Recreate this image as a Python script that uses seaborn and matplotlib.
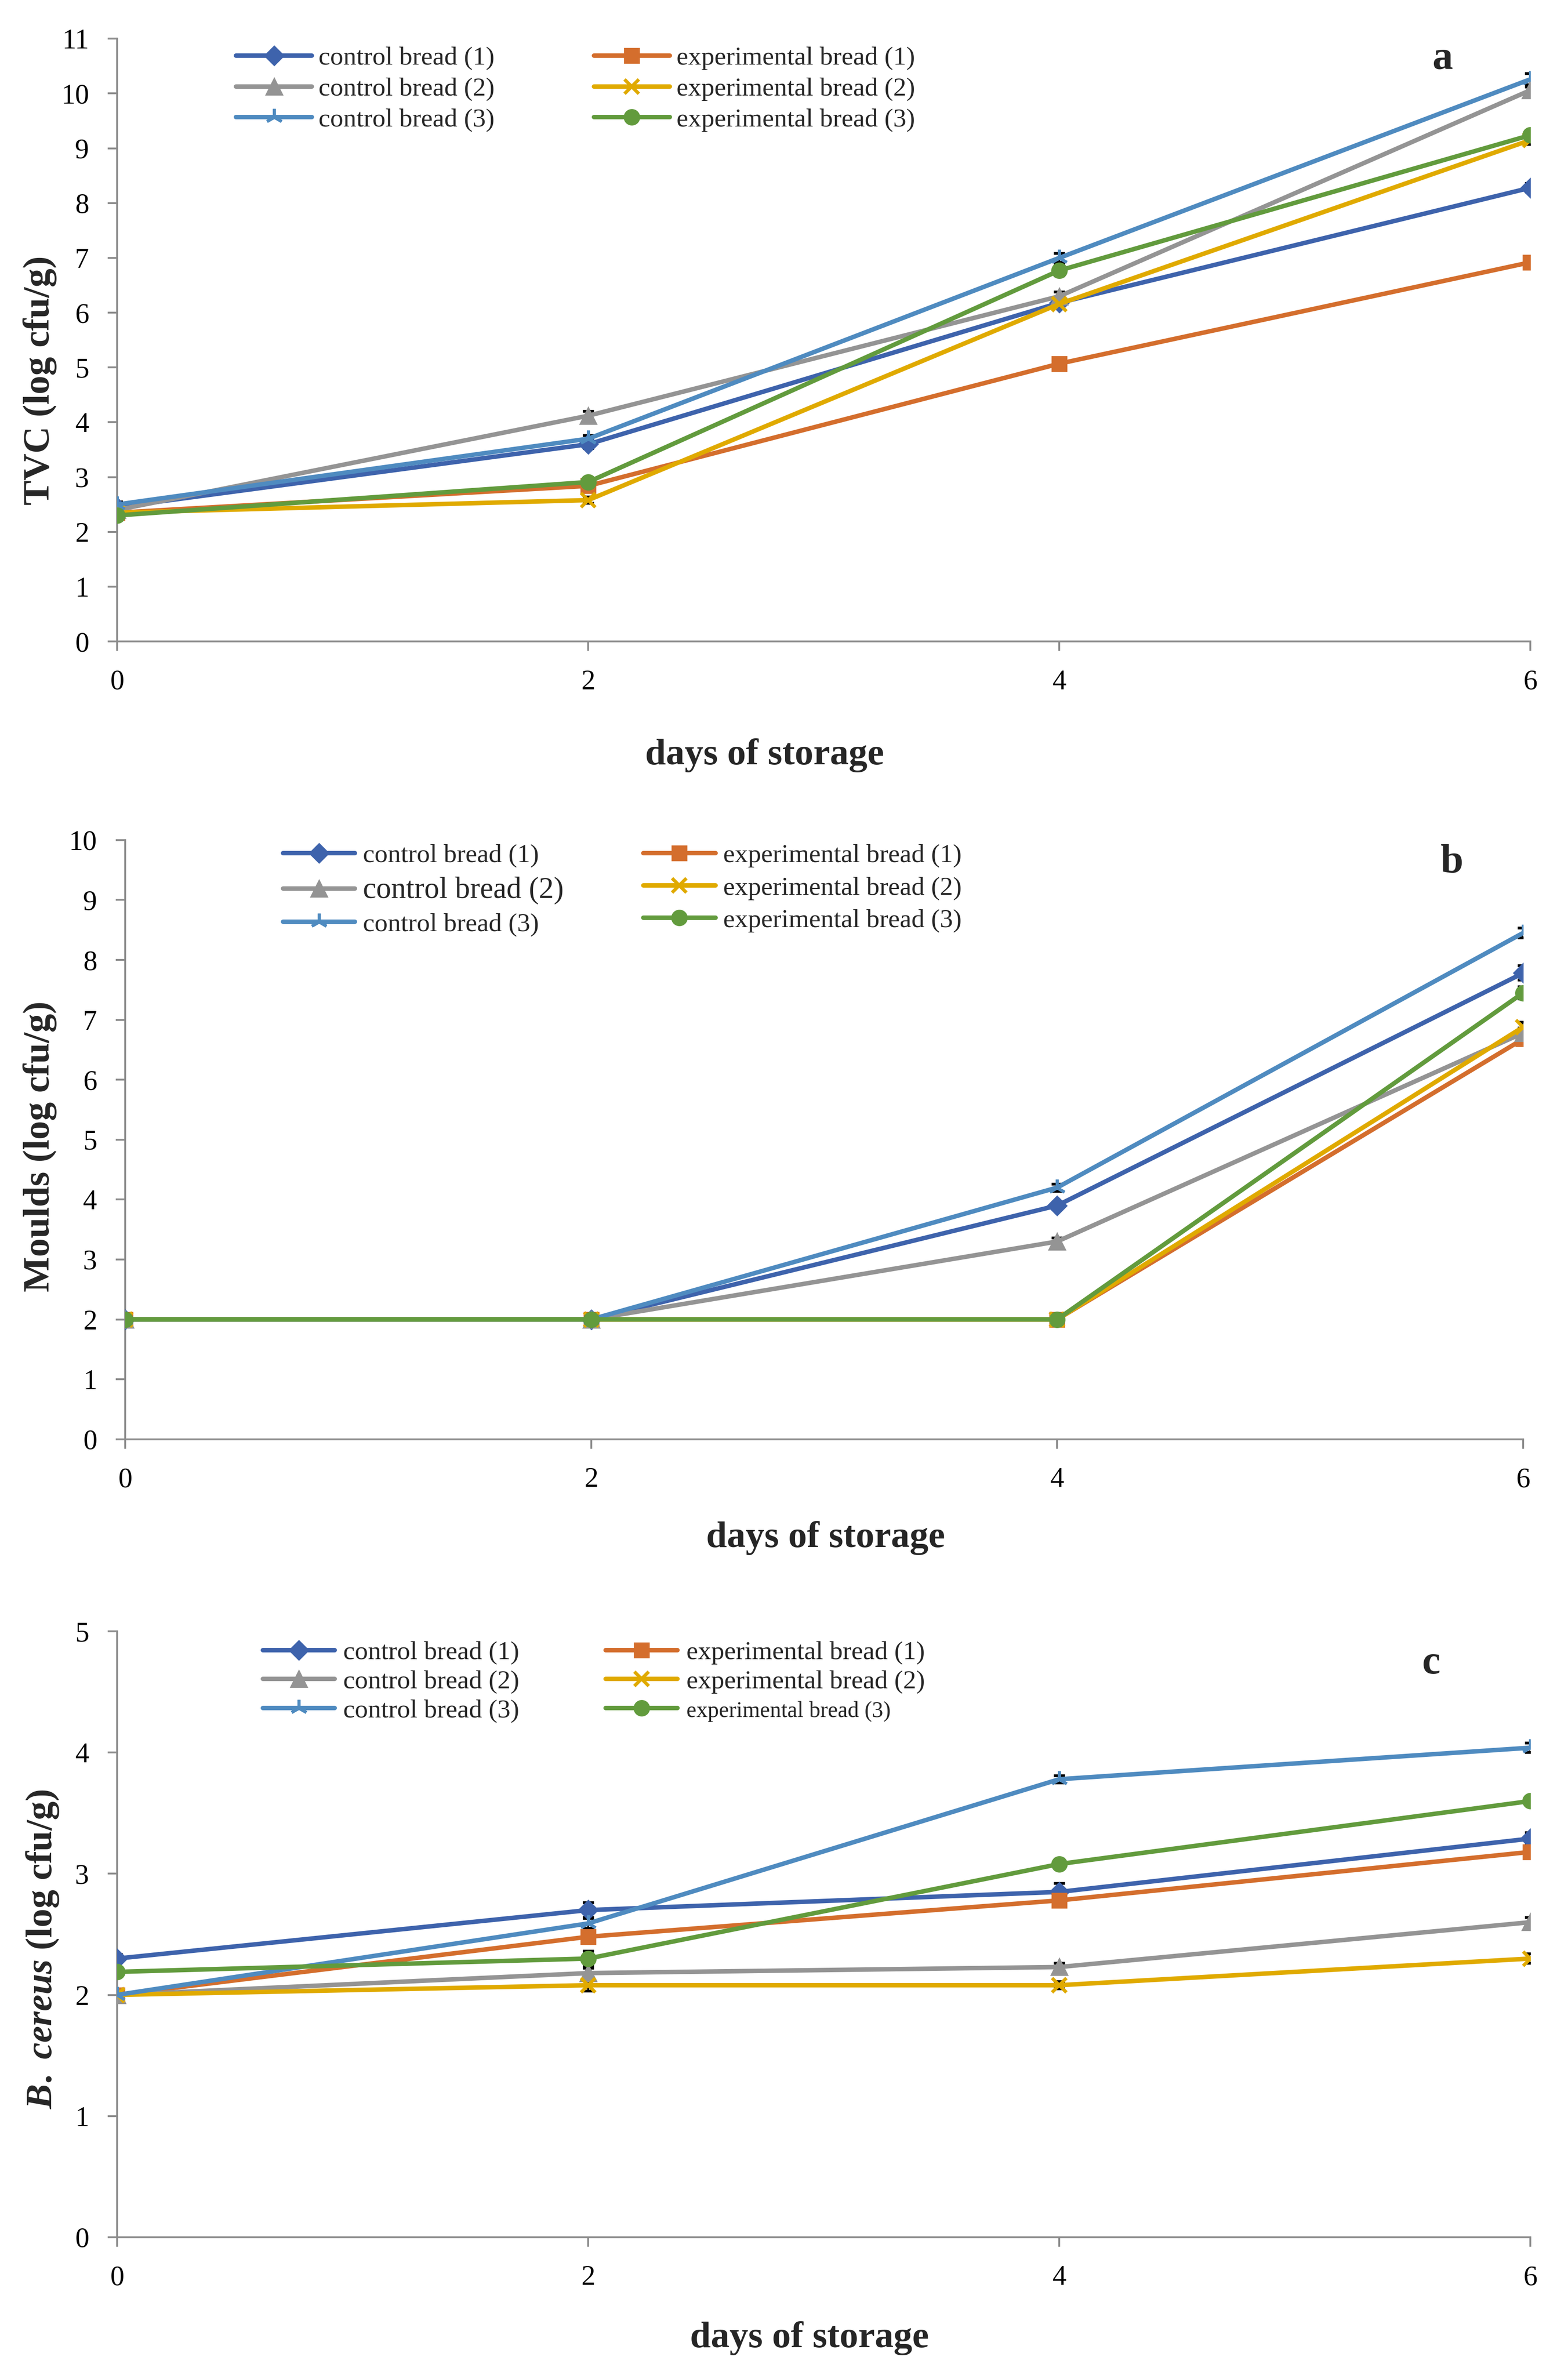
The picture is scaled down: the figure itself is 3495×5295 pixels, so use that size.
import matplotlib
matplotlib.use("Agg")
import matplotlib.pyplot as plt
import seaborn as sns

sns.set_theme(style="white")
plt.rcParams["font.family"] = ["Liberation Serif", "DejaVu Serif"]
plt.rcParams["mathtext.fontset"] = "custom"
plt.rcParams["mathtext.it"] = "Liberation Serif:italic:bold"
plt.rcParams["mathtext.rm"] = "Liberation Serif:bold"

days = [0, 2, 4, 6]
series_names = [
    "control bread (1)",
    "experimental bread (1)",
    "control bread (2)",
    "experimental bread (2)",
    "control bread (3)",
    "experimental bread (3)",
]
series_colors = ["#3E63AC", "#D46E2D", "#949494", "#E0AA00", "#4F8BC0", "#629B3D"]
series_markers = ["D", "s", "^", "x", (3, 2, 0), "o"]
marker_sizes = [7, 7.5, 8.5, 7.5, 9, 8]
marker_edges = [0.8, 0.8, 0.8, 1.8, 1.6, 0.8]

tvc_means = [
    [2.45, 3.60, 6.18, 8.28],
    [2.35, 2.84, 5.07, 6.92],
    [2.40, 4.12, 6.30, 10.06],
    [2.35, 2.58, 6.16, 9.15],
    [2.50, 3.70, 7.00, 10.26],
    [2.30, 2.91, 6.77, 9.24],
]
tvc_err = [
    [0.05, 0.08, 0.10, 0.08],
    [0.04, 0.06, 0.06, 0.05],
    [0.05, 0.08, 0.08, 0.06],
    [0.04, 0.06, 0.08, 0.08],
    [0.05, 0.06, 0.08, 0.10],
    [0.04, 0.06, 0.10, 0.08],
]

moulds_means = [
    [2.0, 2.0, 3.90, 7.78],
    [2.0, 2.0, 2.00, 6.68],
    [2.0, 2.0, 3.30, 6.78],
    [2.0, 2.0, 2.00, 6.88],
    [2.0, 2.0, 4.20, 8.45],
    [2.0, 2.0, 2.00, 7.45],
]
moulds_err = [
    [0.0, 0.0, 0.06, 0.12],
    [0.0, 0.0, 0.00, 0.08],
    [0.0, 0.0, 0.06, 0.08],
    [0.0, 0.0, 0.00, 0.08],
    [0.0, 0.0, 0.06, 0.08],
    [0.0, 0.0, 0.00, 0.10],
]

cereus_means = [
    [2.30, 2.70, 2.85, 3.29],
    [2.00, 2.48, 2.78, 3.18],
    [2.00, 2.18, 2.23, 2.60],
    [2.00, 2.08, 2.08, 2.30],
    [2.00, 2.59, 3.78, 4.04],
    [2.19, 2.30, 3.08, 3.60],
]
cereus_err = [
    [0.03, 0.06, 0.07, 0.05],
    [0.02, 0.05, 0.05, 0.05],
    [0.02, 0.04, 0.03, 0.04],
    [0.02, 0.05, 0.03, 0.04],
    [0.02, 0.04, 0.03, 0.04],
    [0.03, 0.06, 0.04, 0.04],
]

spine_grey = "#8C8C8C"

panels = [
    {
        "rect": [0.0747, 0.7299, 0.9013, 0.2538],
        "means": tvc_means, "err": tvc_err, "ymax": 11,
        "ylabel": "TVC (log cfu/g)", "ylabel_pos": (-0.0546, 0.433),
        "xlabel_pos": (0.458, -0.189),
        "letter": "a", "letter_pos": (0.938, 0.9665),
        "legend_pos": (0.0841, 0.9873), "legend_kw": dict(handlelength=2.9, handletextpad=0.25,
                                                       columnspacing=3.8, labelspacing=0.27),
        "big_label": None, "small_label": None,
    },
    {
        "rect": [0.0798, 0.3940, 0.8916, 0.2523],
        "means": moulds_means, "err": moulds_err, "ymax": 10,
        "ylabel": "Moulds (log cfu/g)", "ylabel_pos": (-0.061, 0.489),
        "xlabel_pos": (0.501, -0.165),
        "letter": "b", "letter_pos": (0.949, 0.9626),
        "legend_pos": (0.113, 0.9937), "legend_kw": dict(handlelength=2.75, handletextpad=0.3,
                                                      columnspacing=3.05, labelspacing=0.33),
        "big_label": 2, "small_label": None,
    },
    {
        "rect": [0.0747, 0.0580, 0.9013, 0.2551],
        "means": cereus_means, "err": cereus_err, "ymax": 5,
        "ylabel": r"$\mathit{B.\ cereus}$ (log cfu/g)", "ylabel_pos": (-0.053, 0.475),
        "xlabel_pos": (0.490, -0.167),
        "letter": "c", "letter_pos": (0.930, 0.9467),
        "legend_pos": (0.103, 0.9844), "legend_kw": dict(handlelength=2.75, handletextpad=0.33,
                                                      columnspacing=3.3, labelspacing=0.2),
        "big_label": None, "small_label": 5,
    },
]

fig = plt.figure(figsize=(11.65, 17.65), dpi=300)

for p in panels:
    ax = fig.add_axes(p["rect"])
    for i, name in enumerate(series_names):
        ax.errorbar(days, p["means"][i], yerr=p["err"][i], fmt="none", ecolor="black",
                    elinewidth=1.0, capsize=3, capthick=1.5, zorder=2)
    for i, name in enumerate(series_names):
        color = series_colors[i]
        sns.lineplot(x=days, y=p["means"][i], ax=ax, color=color, label=name,
                     marker=series_markers[i], markersize=marker_sizes[i],
                     markeredgecolor=color, markerfacecolor=color,
                     markeredgewidth=marker_edges[i], linewidth=2.4, zorder=3 + i)

    ax.set_xlim(0, 6)
    ax.set_ylim(0, p["ymax"])
    ax.set_xticks(days)
    ax.set_yticks(range(0, p["ymax"] + 1))
    for side in ["top", "right"]:
        ax.spines[side].set_visible(False)
    for side in ["left", "bottom"]:
        ax.spines[side].set_color(spine_grey)
        ax.spines[side].set_linewidth(1.0)
    ax.tick_params(axis="both", direction="out", length=5, width=1.0, color=spine_grey,
                   labelsize=15, pad=10, labelcolor="black")
    ax.tick_params(axis="both", which="both", bottom=True, left=True)

    ax.set_xlabel("days of storage", fontsize=20, fontweight="bold")
    ax.xaxis.set_label_coords(*p["xlabel_pos"])
    ax.xaxis.label.set_va("center")
    ax.set_ylabel(p["ylabel"], fontsize=20, fontweight="bold")
    ax.yaxis.set_label_coords(*p["ylabel_pos"])
    ax.yaxis.label.set_va("center")

    ax.text(*p["letter_pos"], p["letter"], transform=ax.transAxes, fontsize=22,
            fontweight="bold", ha="center", va="center")

    handles, labels = ax.get_legend_handles_labels()
    order = [0, 2, 4, 1, 3, 5]
    leg = ax.legend([handles[k] for k in order], [labels[k] for k in order], ncol=2,
                    loc="upper left", bbox_to_anchor=p["legend_pos"], frameon=False,
                    fontsize=14, borderpad=0, borderaxespad=0, numpoints=1,
                    **p["legend_kw"])
    texts = leg.get_texts()
    if p["big_label"] is not None:
        texts[order.index(p["big_label"])].set_fontsize(16)
    if p["small_label"] is not None:
        texts[order.index(p["small_label"])].set_fontsize(12)

fig.savefig("out.png", dpi=300, facecolor="white")
